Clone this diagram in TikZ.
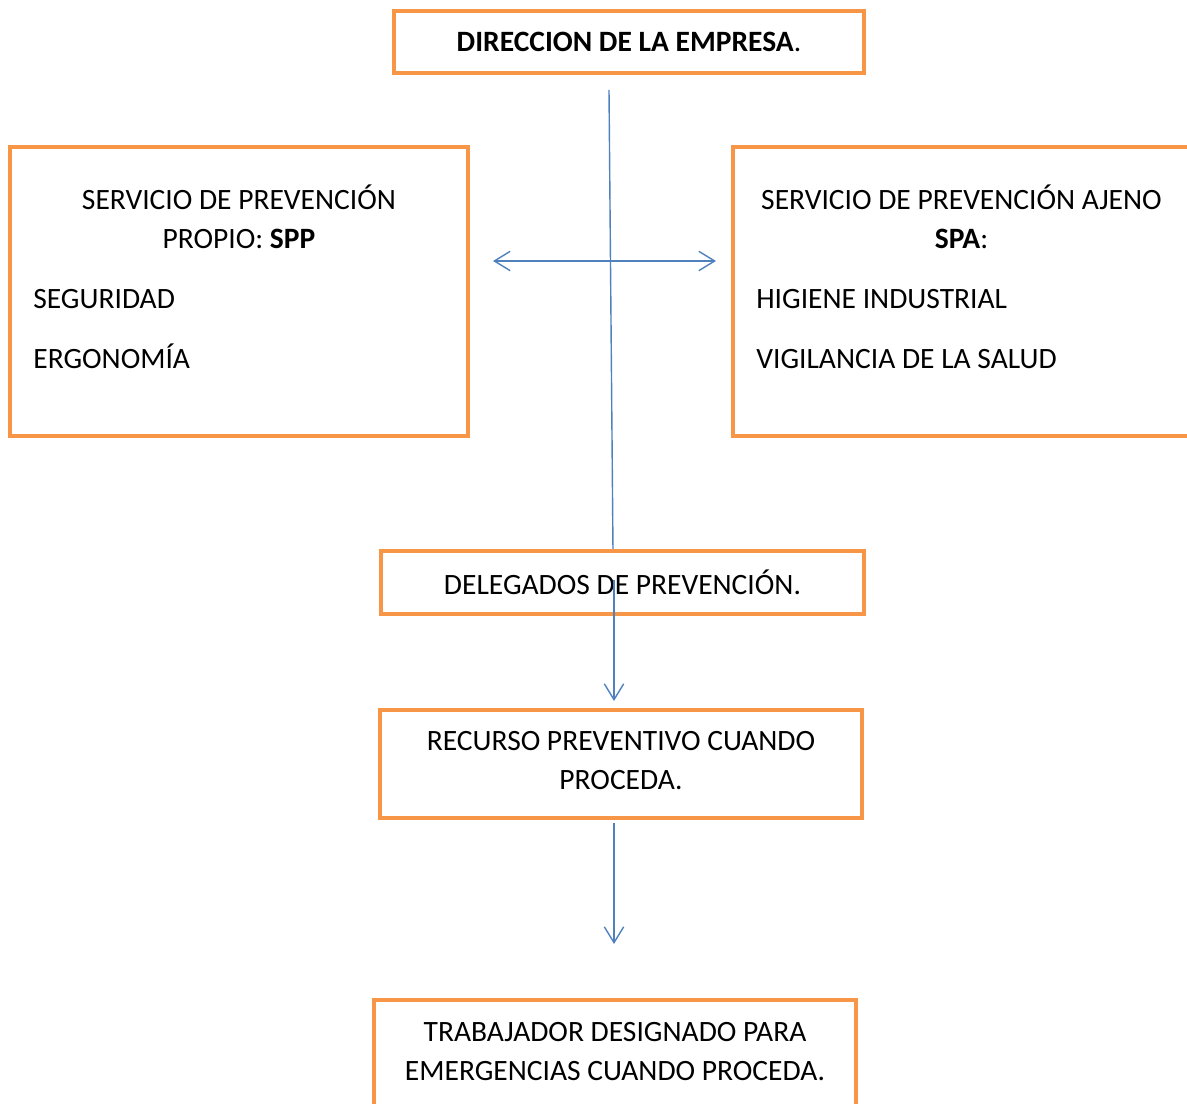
\documentclass[tikz,border=0pt]{standalone}
\usepackage{fontspec}
\setmainfont{Carlito}
\definecolor{OfficeOrange}{RGB}{247,150,70}
\definecolor{OfficeBlue}{RGB}{79,129,189}
\usetikzlibrary{arrows.meta,positioning}

\begin{document}
\begin{tikzpicture}[
    x=0.02cm, y=-0.02cm,
    every node/.style={font=\fontsize{16.8}{22.2}\selectfont, inner sep=0pt},
    box/.style={rectangle, draw=OfficeOrange, line width=2.4pt, fill=white, align=center},
    arrow/.style={-{Straight Barb[length=9pt,width=11pt]}, OfficeBlue, line width=0.8pt}
  ]
    \useasboundingbox (0,0) rectangle (1187,1104);

    \node[box, minimum width=9.4cm, minimum height=1.24cm] (direccion) at (629,42) {\textbf{DIRECCION DE LA EMPRESA}.};
    \node[box, minimum width=9.16cm, minimum height=5.78cm] (spp) at (239,291.5) {};
    \node[box, minimum width=9.14cm, minimum height=5.78cm] (spa) at (961.5,291.5) {};

    \node[anchor=base] (spptitle) at (239,210) {SERVICIO DE PREVENCIÓN};
    \node[anchor=base] (sppname) at (239,249) {PROPIO: \textbf{SPP}};
    \node[anchor=base west] (seguridad) at (33,309) {SEGURIDAD};
    \node[anchor=base west] (ergonomia) at (33,369) {ERGONOMÍA};

    \node[anchor=base] (spatitle) at (961.5,210) {SERVICIO DE PREVENCIÓN AJENO};
    \node[anchor=base] (spaname) at (961.5,249) {\textbf{SPA}:};
    \node[anchor=base west] (higiene) at (756,309) {HIGIENE INDUSTRIAL};
    \node[anchor=base west] (vigilancia) at (756,369) {VIGILANCIA DE LA SALUD};

    \coordinate (dirout) at (609,90);
    \coordinate (delin) at (613,551);
    \draw[OfficeBlue, line width=0.8pt] (dirout) -- (delin);

    \coordinate (sppin) at (493,261);
    \coordinate (spain) at (716,261);
    \draw[arrow, {Straight Barb[length=9pt,width=11pt]}-{Straight Barb[length=9pt,width=11pt]}] (sppin) -- (spain);

    \node[box, minimum width=9.66cm, minimum height=1.26cm] (delegados) at (622.5,582.5) {DELEGADOS DE PREVENCIÓN.};
    \node[box, minimum width=9.64cm, minimum height=2.16cm] (recurso) at (621,764) {RECURSO PREVENTIVO CUANDO\\PROCEDA.\rule[-4pt]{0pt}{0pt}};
    \node[box, minimum width=9.64cm, minimum height=2.2cm] (trabajador) at (615,1055) {TRABAJADOR DESIGNADO PARA\\EMERGENCIAS CUANDO PROCEDA.\rule[-4pt]{0pt}{0pt}};

    \coordinate (delout) at (614,580);
    \coordinate (recin) at (614,701);
    \coordinate (recout) at (614,823);
    \coordinate (trabin) at (614,944);
    \draw[arrow] (delout) -- (recin);
    \draw[arrow] (recout) -- (trabin);
\end{tikzpicture}
\end{document}
